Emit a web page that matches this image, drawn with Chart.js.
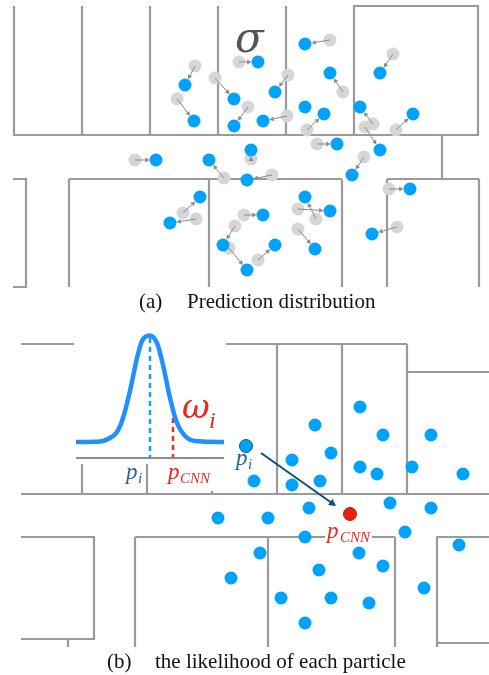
<!DOCTYPE html>
<html>
<head>
<meta charset="utf-8">
<style>
  html, body { margin: 0; padding: 0; background: #fff; }
  canvas { display: block; }
</style>
<script src="https://cdn.jsdelivr.net/npm/chart.js@4/dist/chart.umd.js"></script>
</head>
<body>
<canvas id="myChart" width="489" height="675"></canvas>
<script>
// walls of the two floor plans, null = lift the pen
const wallX = [14,14,478,478,354,354,null,82,82,null,150,150,null,218,218,null,286,286,null,354,354,null,442,442,null,
  13,26,26,13,null,69,342,null,69,69,null,209,209,null,342,342,null,387,479,null,387,387,null,479,479,null,
  21,74,null,226,407,null,277,277,null,342,342,null,407,407,null,407,489,null,21,489,null,82,82,null,147,147,null,212,212,null,
  21,94,94,21,null,68,68,null,135,325,null,372,395,null,135,135,null,268,268,null,395,395,null,489,437,437,null,437,489];
const wallY = [6,135,135,6,6,135,null,6,135,null,6,135,null,6,135,null,6,135,null,6,135,null,135,179,null,
  179,179,287,287,null,179,179,null,179,287,null,179,287,null,179,287,null,179,179,null,179,287,null,179,287,null,
  344,344,null,344,344,null,344,494,null,344,494,null,344,494,null,372,372,null,494,494,null,464,494,null,464,494,null,491,494,null,
  537,537,639,639,null,639,647,null,537,537,null,537,537,null,537,647,null,537,647,null,537,647,null,537,537,647,null,643,643];

// panel (a): where each particle was and where it moved to
const priorX = [330,239,393,195,215,288,343,177,248,287,307,373,365,396,317,135,224,251,272,364,389,183,196,244,235,229,258,298,316,298,397];
const priorY = [40,62,54,66,78,75,92,99,107,116,130,124,127,130,144,160,178,159,175,157,189,213,219,215,226,248,260,209,219,229,227];
const movedX = [305,258,380,185,234,275,330,194,234,263,324,360,380,413,337,156,209,251,247,352,410,200,170,263,223,247,275,330,305,315,372];
const movedY = [44,62,73,85,99,92,73,121,126,121,114,107,150,114,144,160,160,150,180,175,189,197,223,215,245,270,245,211,197,249,234];
const restX = [305];
const restY = [107];

// panel (b): particles
const particleX = [360,315,383,431,331,292,360,377,412,463,254,292,320,390,431,309,218,268,305,405,459,260,359,383,319,231,424,281,331,369,305];
const particleY = [407,425,435,435,453,460,467,474,467,474,481,485,481,503,508,508,518,518,537,532,545,553,553,566,570,578,588,598,598,603,623];
const chosenX = [246];
const chosenY = [446];
const cnnX = [350];
const cnnY = [514];

// likelihood curve above the plan
const curveX = [76,100,108,117,123,130,137,142,149.5,157,163,170,177,185,195,224];
const curveY = [442,441.5,439,432,418,391,358,341,335.5,343,365,398,423,436,441,442];
const baseX = [76,224];
const baseY = [458,458];
const dashBlueX = [150,150];
const dashBlueY = [338,458];
const dashRedX = [173,173];
const dashRedY = [418,457];

const arrowFromX = [261];
const arrowFromY = [453];
const arrowToX = [336];
const arrowToY = [506];

const zip = (xs, ys) => xs.map((x, i) => ({ x: x, y: ys[i] }));

const serif = '"Liberation Serif", "Times New Roman", serif';
const labelColor = '#2a6494';
const redText = '#e8291c';
const labels = [
  { t: 'σ', x: 235, y: 52, font: 'italic 42px "DejaVu Serif", serif', color: '#555555' },
  { t: 'ω', x: 182, y: 418, font: 'italic 34px "DejaVu Serif", serif', color: redText },
  { t: 'i', x: 209, y: 428, font: 'italic 24px ' + serif, color: redText },
  { t: 'p', x: 126, y: 479, font: 'italic 23px ' + serif, color: labelColor },
  { t: 'i', x: 138, y: 483, font: 'italic 15px ' + serif, color: labelColor },
  { t: 'p', x: 168, y: 479, font: 'italic 23px ' + serif, color: redText },
  { t: 'CNN', x: 180, y: 483, font: 'italic 15px ' + serif, color: redText },
  { t: 'p', x: 236, y: 465, font: 'italic 23px ' + serif, color: labelColor },
  { t: 'i', x: 248, y: 469, font: 'italic 15px ' + serif, color: labelColor },
  { t: 'p', x: 327, y: 538, font: 'italic 23px ' + serif, color: redText },
  { t: 'CNN', x: 340, y: 542, font: 'italic 15px ' + serif, color: redText },
  { t: '(a)', x: 139, y: 308, font: '21px ' + serif, color: '#111111' },
  { t: 'Prediction distribution', x: 187, y: 308, font: '21px ' + serif, color: '#111111' },
  { t: '(b)', x: 107, y: 668, font: '21px ' + serif, color: '#111111' },
  { t: 'the likelihood of each particle', x: 155, y: 668, font: '21px ' + serif, color: '#111111' }
];

function drawArrow(c, x0, y0, x1, y1, color, width, head, gap) {
  const a = Math.atan2(y1 - y0, x1 - x0);
  const ex = x1 - Math.cos(a) * gap;
  const ey = y1 - Math.sin(a) * gap;
  c.strokeStyle = color;
  c.fillStyle = color;
  c.lineWidth = width;
  c.beginPath();
  c.moveTo(x0, y0);
  c.lineTo(ex - Math.cos(a) * head * 0.8, ey - Math.sin(a) * head * 0.8);
  c.stroke();
  c.beginPath();
  c.moveTo(ex, ey);
  c.lineTo(ex - head * Math.cos(a - 0.5), ey - head * Math.sin(a - 0.5));
  c.lineTo(ex - head * Math.cos(a + 0.5), ey - head * Math.sin(a + 0.5));
  c.closePath();
  c.fill();
}

const extras = {
  id: 'extras',
  // small arrows go over the grey particles but under the blue ones
  afterDatasetDraw(chart, args) {
    if (chart.data.datasets[args.index].label !== 'prior') return;
    const sx = chart.scales.x, sy = chart.scales.y, c = chart.ctx;
    c.save();
    for (let i = 0; i < priorX.length; i++) {
      drawArrow(c, sx.getPixelForValue(priorX[i]), sy.getPixelForValue(priorY[i]),
        sx.getPixelForValue(movedX[i]), sy.getPixelForValue(movedY[i]), '#8a8a8a', 1, 5, 6.5);
    }
    c.restore();
  },
  afterDraw(chart) {
    const sx = chart.scales.x, sy = chart.scales.y, c = chart.ctx;
    c.save();
    drawArrow(c, sx.getPixelForValue(arrowFromX[0]), sy.getPixelForValue(arrowFromY[0]),
      sx.getPixelForValue(arrowToX[0]), sy.getPixelForValue(arrowToY[0]), '#0b4f7f', 2, 8, 0);
    c.textBaseline = 'alphabetic';
    labels.forEach(l => {
      c.font = l.font;
      c.fillStyle = l.color;
      c.fillText(l.t, sx.getPixelForValue(l.x), sy.getPixelForValue(l.y));
    });
    c.restore();
  }
};

function lineSet(label, xs, ys, color, width, order, dash) {
  return {
    label: label,
    data: zip(xs, ys),
    showLine: true,
    spanGaps: false,
    clip: false,
    borderColor: color,
    borderWidth: width,
    borderDash: dash || [],
    pointRadius: 0,
    order: order
  };
}

function dotSet(label, xs, ys, color, order, edge) {
  return {
    label: label,
    data: zip(xs, ys),
    clip: false,
    backgroundColor: color,
    borderColor: edge || color,
    borderWidth: edge ? 1 : 0,
    pointRadius: 6.5,
    pointHoverRadius: 6.5,
    order: order
  };
}

const ctx = document.getElementById('myChart');
const curve = lineSet('curve', curveX, curveY, '#1e90ff', 4.5, 4);
curve.cubicInterpolationMode = 'monotone';

// the library keeps 7.5px free around the area for the point size
const inset = 7.5;

new Chart(ctx, {
  type: 'scatter',
  data: {
    datasets: [
      lineSet('walls', wallX, wallY, '#9a9a9a', 2.2, 10),
      lineSet('base', baseX, baseY, '#8e8e8e', 2.2, 9),
      dotSet('prior', priorX, priorY, '#d6d6d6', 8),
      lineSet('dashBlue', dashBlueX, dashBlueY, '#12a0ff', 2.5, 5, [5, 4]),
      lineSet('dashRed', dashRedX, dashRedY, '#e8301c', 2.5, 5, [5, 4]),
      curve,
      dotSet('moved', movedX, movedY, '#00a2ff', 3),
      dotSet('rest', restX, restY, '#00a2ff', 3),
      dotSet('particles', particleX, particleY, '#00a2ff', 3),
      dotSet('chosen', chosenX, chosenY, '#00a2ff', 2, '#0d5a8a'),
      dotSet('cnn', cnnX, cnnY, '#e8200c', 2, '#c41a0a')
    ]
  },
  options: {
    responsive: false,
    animation: false,
    layout: { padding: 0 },
    plugins: { legend: { display: false }, tooltip: { enabled: false } },
    scales: {
      x: { type: 'linear', display: false, min: inset, max: 489 - inset },
      y: { type: 'linear', display: false, min: inset, max: 675 - inset, reverse: true }
    }
  },
  plugins: [extras]
});
</script>
</body>
</html>
